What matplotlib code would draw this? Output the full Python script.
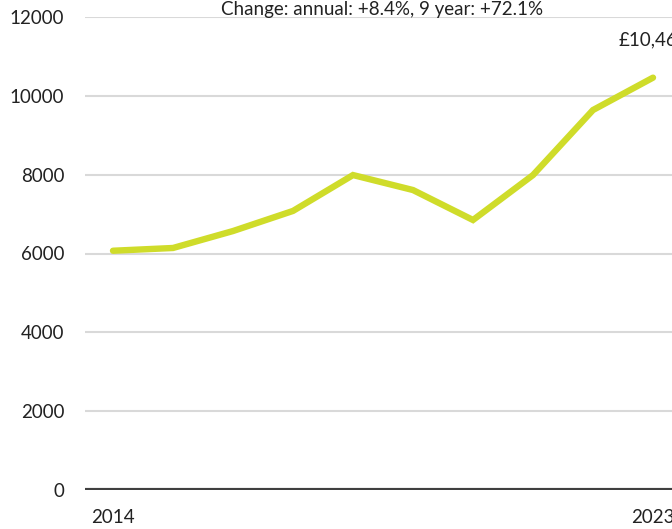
import matplotlib.pyplot as plt
import numpy as np

years = [2014, 2015, 2016, 2017, 2018, 2019, 2020, 2021, 2022, 2023]
values = [6070, 6140, 6570, 7080, 7990, 7610, 6850, 7990, 9640, 10461]
yticks = [0, 2000, 4000, 6000, 8000, 10000, 12000]
title = "Change: annual: +8.4%, 9 year: +72.1%"
end_label = "£10,461"

plt.rcParams["font.family"] = ["Lato", "DejaVu Sans"]
fs = 13.5

fig = plt.figure(figsize=(6.72, 5.29), dpi=100)
ax = fig.add_axes([85 / 672, 1 - 490 / 529, 615 / 672, 473 / 529])

ax.plot(years, values, color="#cfdc2a", lw=4.6, solid_capstyle="round",
        solid_joinstyle="miter", zorder=3)

ax.set_xlim(2014 - 28 / 60, 2014 + 587 / 60)
ax.set_ylim(0, 12000)
ax.set_yticks(yticks)
ax.set_yticklabels([str(v) for v in yticks], fontsize=fs, color="#222222")
ax.set_xticks([years[0], years[-1]])
ax.set_xticklabels([str(years[0]), str(years[-1])], fontsize=fs, color="#222222")
ax.tick_params(length=0, axis="y", pad=15)
ax.tick_params(length=0, axis="x", pad=14)

for v in yticks[1:]:
    ax.axhline(v, color="#d9d9d9", lw=1.5, zorder=1)
ax.axhline(0, color="#404040", lw=3, zorder=2)

for s in ax.spines.values():
    s.set_visible(False)

ax.text(382 / 672, 1 - 10 / 529, title, transform=fig.transFigure,
        ha="center", va="center", fontsize=fs, color="#222222")
ax.text(years[-1], values[-1] + 960, end_label, ha="center", va="center",
        fontsize=fs, color="#222222", clip_on=False)

fig.savefig("out.png", dpi=100)
